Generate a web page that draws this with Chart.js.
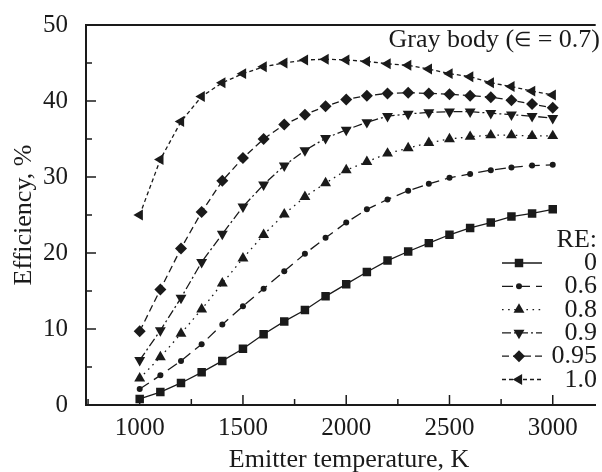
<!DOCTYPE html>
<html>
<head>
  <title>Efficiency vs emitter temperature</title>
  <script src="https://cdn.jsdelivr.net/npm/chart.js"></script>
  <style>
    body { margin: 0; background: #fff; }
    canvas { display: block; }
  </style>
</head>
<body>
  <canvas id="effChart" width="602" height="472"></canvas>
  <script>
    // emitter temperature, K
    const temps = [1000, 1100, 1200, 1300, 1400, 1500, 1600, 1700, 1800, 1900, 2000,
                   2100, 2200, 2300, 2400, 2500, 2600, 2700, 2800, 2900, 3000];
    // efficiency, % for each RE value
    const eff00  = [0.8, 1.7, 2.9, 4.3, 5.8, 7.4, 9.3, 11.0, 12.5, 14.3, 15.9, 17.5, 19.0, 20.2, 21.3, 22.4, 23.3, 24.0, 24.8, 25.2, 25.75];
    const eff06  = [2.1, 3.9, 5.8, 8.0, 10.6, 13.0, 15.3, 17.6, 19.9, 22.0, 24.0, 25.75, 27.05, 28.2, 29.1, 29.9, 30.4, 30.9, 31.25, 31.5, 31.6];
    const eff08  = [3.5, 6.3, 9.4, 12.6, 16.0, 19.3, 22.4, 25.1, 27.4, 29.2, 30.9, 32.0, 33.1, 33.8, 34.5, 35.0, 35.3, 35.5, 35.5, 35.4, 35.4];
    const eff09  = [5.9, 9.8, 14.1, 18.8, 22.5, 26.1, 29.0, 31.5, 33.5, 35.1, 36.2, 37.2, 38.0, 38.3, 38.5, 38.6, 38.6, 38.4, 38.2, 38.0, 37.75];
    const eff095 = [9.7, 15.2, 20.6, 25.4, 29.5, 32.5, 35.0, 36.9, 38.2, 39.3, 40.2, 40.7, 41.0, 41.1, 41.0, 40.9, 40.7, 40.5, 40.1, 39.6, 39.1];
    const eff10  = [25.0, 32.3, 37.3, 40.6, 42.4, 43.6, 44.5, 45.0, 45.4, 45.5, 45.4, 45.2, 44.9, 44.7, 44.2, 43.6, 43.2, 42.4, 41.9, 41.3, 40.8];
    const reLabels = ['0', '0.6', '0.8', '0.9', '0.95', '1.0'];

    const xTicks = [1000, 1500, 2000, 2500, 3000];
    const yTicks = [0, 10, 20, 30, 40, 50];

    const ink = '#1a1a1a';
    const serif = '"Liberation Serif", "Times New Roman", serif';

    function series(label, values, style, radius, rotation, dash) {
      return {
        label: label,
        data: temps.map((t, i) => ({ x: t, y: values[i] })),
        borderColor: ink,
        backgroundColor: ink,
        borderWidth: 1.3,
        borderDash: dash,
        pointStyle: style,
        pointRadius: radius,
        pointRotation: rotation,
        pointBorderWidth: 0,
        pointBackgroundColor: ink,
        tension: 0
      };
    }

    // inward ticks, top frame line, x title and the legend
    const decor = {
      id: 'decor',
      afterDraw(chart) {
        const { ctx, chartArea: a, scales: { x, y } } = chart;
        ctx.save();
        ctx.strokeStyle = ink;
        ctx.lineWidth = 2;
        ctx.beginPath();
        ctx.moveTo(a.left - 1, a.top);
        ctx.lineTo(a.right, a.top);
        ctx.stroke();

        ctx.lineWidth = 1.5;
        const xs = xTicks[1] - xTicks[0];
        for (let v = xTicks[0] - xs / 2; v <= xTicks[xTicks.length - 1]; v += xs / 2) {
          const px = x.getPixelForValue(v);
          const len = xTicks.includes(v) ? 10 : 6;
          ctx.beginPath(); ctx.moveTo(px, a.bottom); ctx.lineTo(px, a.bottom - len); ctx.stroke();
        }
        const ys = yTicks[1] - yTicks[0];
        for (let v = yTicks[0] + ys / 2; v < yTicks[yTicks.length - 1]; v += ys / 2) {
          const py = y.getPixelForValue(v);
          const len = yTicks.includes(v) ? 10 : 6;
          ctx.beginPath(); ctx.moveTo(a.left, py); ctx.lineTo(a.left + len, py); ctx.stroke();
        }

        ctx.fillStyle = ink;
        const big = '26px ' + serif, small = '20px ' + serif;
        ctx.font = big;
        ctx.textBaseline = 'alphabetic';
        ctx.textAlign = 'center';
        ctx.fillText('Emitter temperature, K', 349, 467);

        // "Gray body (∈ = 0.7)" with a smaller epsilon sign, right aligned
        ctx.textAlign = 'left';
        const p1 = 'Gray body (', p2 = '\u2208', p3 = ' = 0.7)';
        const w1 = ctx.measureText(p1).width, w3 = ctx.measureText(p3).width;
        ctx.font = small;
        const w2 = ctx.measureText(p2).width;
        let tx = 600 - w1 - w2 - w3;
        ctx.font = big;
        ctx.fillText(p1, tx, 47);
        ctx.font = small;
        ctx.fillText(p2, tx + w1, 46);
        ctx.font = big;
        ctx.fillText(p3, tx + w1 + w2, 47);

        ctx.textAlign = 'right';
        ctx.fillText('RE:', 597, 247);

        chart.data.datasets.forEach((ds, i) => {
          const base = 270 + i * 23.3;
          const ly = base - 7;
          ctx.fillText(ds.label, 597, base);
          ctx.save();
          ctx.lineWidth = ds.borderWidth;
          ctx.setLineDash(ds.borderDash);
          ctx.beginPath(); ctx.moveTo(502, ly); ctx.lineTo(542, ly); ctx.stroke();
          ctx.restore();
          Chart.helpers.drawPoint(ctx, {
            pointStyle: ds.pointStyle, rotation: ds.pointRotation,
            radius: ds.pointRadius, borderWidth: 0
          }, 519, ly);
        });
        ctx.restore();
      }
    };

    new Chart(document.getElementById('effChart'), {
      type: 'line',
      data: {
        datasets: [
          series(reLabels[0], eff00, 'rect', 6, 0, []),
          series(reLabels[1], eff06, 'circle', 3, 0, [11, 6]),
          series(reLabels[2], eff08, 'triangle', 6.3, 0, [1.6, 4.5]),
          series(reLabels[3], eff09, 'triangle', 6.3, 180, [9, 3, 2, 3]),
          series(reLabels[4], eff095, 'rectRot', 6, 0, [7, 4]),
          series(reLabels[5], eff10, 'triangle', 6.3, -90, [4, 3])
        ]
      },
      options: {
        responsive: false,
        animation: false,
        layout: { padding: { top: 20, right: 0, left: 0, bottom: 0 } },
        plugins: { legend: { display: false }, tooltip: { enabled: false } },
        scales: {
          x: {
            type: 'linear',
            min: 740,
            max: 3208,
            afterBuildTicks: s => { s.ticks = xTicks.map(v => ({ value: v })); },
            afterFit: s => { s.height = 67; },
            grid: { display: false },
            border: { color: ink, width: 2 },
            ticks: {
              color: ink, padding: 0, maxRotation: 0,
              font: { family: serif, size: 25 },
              callback: v => String(v)
            }
          },
          y: {
            min: 0,
            max: 50,
            afterBuildTicks: s => { s.ticks = yTicks.map(v => ({ value: v })); },
            afterFit: s => { s.width = 86; },
            grid: { display: false },
            border: { color: ink, width: 2 },
            ticks: { color: ink, padding: 10, font: { family: serif, size: 25 }, callback: v => String(v) },
            title: {
              display: true,
              text: 'Efficiency, %',
              color: ink,
              padding: { top: 9, bottom: 0 },
              font: { family: serif, size: 26 }
            }
          }
        }
      },
      plugins: [decor]
    });
  </script>
</body>
</html>
